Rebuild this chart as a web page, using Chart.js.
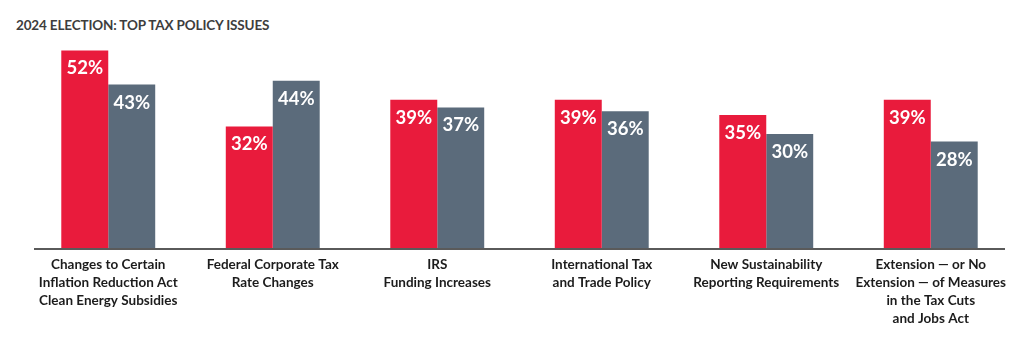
<!DOCTYPE html>
<html>
<head>
<meta charset="utf-8">
<script src="https://cdn.jsdelivr.net/npm/chart.js@4"></script>
<style>
  html, body { margin: 0; padding: 0; background: #fff; }
  .wrap { position: relative; width: 1024px; height: 337px; }
  .chart-title {
    position: absolute; left: 16px; top: 17px;
    font: bold 13.5px Lato, sans-serif; color: #3d3d3d; letter-spacing: -0.15px;
  }
  canvas { position: absolute; left: 0; top: 0; }
</style>
</head>
<body>
<div class="wrap">
  <div class="chart-title">2024 ELECTION: TOP TAX POLICY ISSUES</div>
  <canvas id="chart" width="1024" height="337"></canvas>
</div>
<script>
// ── data ─────────────────────────────────────────
const categories = [
  ['Changes to Certain', 'Inflation Reduction Act', 'Clean Energy Subsidies'],
  ['Federal Corporate Tax', 'Rate Changes'],
  ['IRS', 'Funding Increases'],
  ['International Tax', 'and Trade Policy'],
  ['New Sustainability', 'Reporting Requirements'],
  ['Extension — or No', 'Extension — of Measures', 'in the Tax Cuts', 'and Jobs Act'],
];
const redValues = [52, 32, 39, 39, 35, 39];
const grayValues = [43, 44, 37, 36, 30, 28];

const RED = '#E91B3C';
const GRAY = '#5B6B7B';

// value labels, white, just inside the top of each bar
const barLabels = {
  id: 'barLabels',
  afterDatasetsDraw(chart) {
    const { ctx } = chart;
    ctx.save();
    ctx.fillStyle = '#fff';
    ctx.font = 'bold 18.5px Lato, sans-serif';
    ctx.textAlign = 'center';
    ctx.textBaseline = 'middle';
    chart.data.datasets.forEach((ds, i) => {
      chart.getDatasetMeta(i).data.forEach((bar, j) => {
        ctx.fillText(ds.data[j] + '%', bar.x, bar.y + 18);
      });
    });
    ctx.restore();
  }
};

// baseline under the bars, a little shorter than the plot area
const baseline = {
  id: 'baseline',
  afterDatasetsDraw(chart) {
    const { ctx, chartArea } = chart;
    ctx.save();
    ctx.strokeStyle = '#5a5a5a';
    ctx.lineWidth = 2;
    ctx.beginPath();
    ctx.moveTo(chartArea.left + 8, chartArea.bottom + 1);
    ctx.lineTo(chartArea.right - 8, chartArea.bottom + 1);
    ctx.stroke();
    ctx.restore();
  }
};

new Chart(document.getElementById('chart'), {
  type: 'bar',
  data: {
    labels: categories,
    datasets: [
      { data: redValues, backgroundColor: RED, borderWidth: 0 },
      { data: grayValues, backgroundColor: GRAY, borderWidth: 0 },
    ],
  },
  options: {
    responsive: false,
    animation: false,
    categoryPercentage: 0.571,
    barPercentage: 1,
    layout: { padding: { left: 26, right: 11, top: 20, bottom: 0 } },
    plugins: { legend: { display: false }, tooltip: { enabled: false } },
    scales: {
      x: {
        grid: { display: false, drawTicks: false },
        border: { display: false },
        ticks: {
          color: '#1c1c1c',
          padding: 8,
          maxRotation: 0,
          autoSkip: false,
          font: { family: 'Lato', weight: 'bold', size: 13.5, lineHeight: 1.33 },
        },
        afterFit(axis) { axis.height = 89; },
      },
      y: {
        display: false,
        min: 0,
        max: 60,
      },
    },
  },
  plugins: [barLabels, baseline],
});
</script>
</body>
</html>
